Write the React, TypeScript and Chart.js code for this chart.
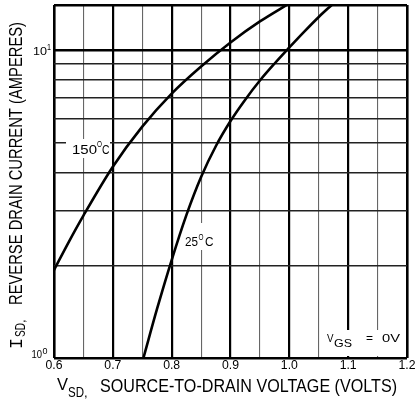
import { useEffect, useRef } from 'react';
import { Chart, registerables } from 'chart.js';

Chart.register(...registerables);

// ---- data ----
const xGridValues = [0.6, 0.65, 0.7, 0.75, 0.8, 0.85, 0.9, 0.95, 1.0, 1.05, 1.1, 1.15, 1.2];
const xLabelValues = [0.6, 0.7, 0.8, 0.9, 1.0, 1.1, 1.2];
const xLabels = ['0.6', '0.7', '0.8', '0.9', '1.0', '1.1', '1.2'];
const yGridValues = [1, 2, 3, 4, 5, 6, 7, 8, 9, 10, 14];
const yLabelValues = [1, 10];
const yLabelExps = ['0', '1'];

const v150 = [0.6, 0.625, 0.65, 0.7, 0.75, 0.8, 0.85, 0.9, 0.95, 1.0];
const i150 = [1.93, 2.38, 2.9, 4.18, 5.64, 7.22, 8.84, 10.58, 12.38, 14.17];
const v25 = [0.752, 0.775, 0.8, 0.825, 0.85, 0.875, 0.9, 0.925, 0.95, 0.975, 1.0, 1.025, 1.05, 1.073];
const i25 = [1.0, 1.44, 2.08, 2.91, 3.87, 4.87, 5.88, 6.9, 7.96, 9.04, 10.19, 11.45, 12.8, 14.06];

const xTitleSym = 'V';
const xTitleSub = 'SD';
const xTitleText = 'SOURCE-TO-DRAIN VOLTAGE (VOLTS)';
const yTitleSym = 'I';
const yTitleSub = 'SD';
const yTitleText = 'REVERSE DRAIN CURRENT (AMPERES)';
const label150 = '150';
const label25 = '25';
const vgsSym = 'V';
const vgsSub = 'GS';
const vgsEq = '=';
const vgsVal = '0V';

const FONT = '"Liberation Sans", "DejaVu Sans", sans-serif';

function txt(
  ctx: CanvasRenderingContext2D,
  s: string,
  x: number,
  y: number,
  size: number,
  w?: number,
  align: 'left' | 'center' | 'right' = 'left',
  family: string = FONT
) {
  ctx.save();
  ctx.font = `${size}px ${family}`;
  ctx.textBaseline = 'alphabetic';
  ctx.textAlign = 'left';
  const m = ctx.measureText(s).width;
  const sx = w ? w / m : 1;
  const rw = m * sx;
  const left = align === 'left' ? x : align === 'center' ? x - rw / 2 : x - rw;
  ctx.translate(left, y);
  ctx.scale(sx, 1);
  ctx.fillStyle = '#000';
  ctx.fillText(s, 0, 0);
  ctx.restore();
}

const annot = {
  id: 'annot',
  beforeDatasetsDraw(chart: any) {
    const ctx = chart.ctx as CanvasRenderingContext2D;
    ctx.save();
    ctx.fillStyle = '#fff';
    // label backgrounds (gaps in the grid)
    ctx.fillRect(66, 139, 44, 19);
    ctx.fillRect(182, 223, 34, 27);
    ctx.fillRect(322, 330, 82, 26);
    ctx.restore();
  },
  afterDraw(chart: any) {
    const ctx = chart.ctx as CanvasRenderingContext2D;
    const xs = chart.scales.x;
    const ys = chart.scales.y;
    // x tick labels
    xLabelValues.forEach((v, i) => {
      txt(ctx, xLabels[i], xs.getPixelForValue(v), 369, 12, 17, 'center');
    });
    // y tick labels 10^n
    yLabelValues.forEach((v, i) => {
      const py = ys.getPixelForValue(v);
      if (i === 0) {
        txt(ctx, '10', 42, py, 10.5, 10.5, 'right');
        txt(ctx, yLabelExps[i], 42.5, py - 4, 8.5, 5);
      } else {
        txt(ctx, '10', 47, py + 4.5, 11.5, 14, 'right');
        txt(ctx, yLabelExps[i], 47, py - 0.5, 9, 4);
      }
    });
    // x title
    txt(ctx, xTitleSym, 57, 390, 17, 11);
    txt(ctx, xTitleSub, 68, 397, 14, 16);
    txt(ctx, ',', 84, 397, 13);
    txt(ctx, xTitleText, 100, 392, 18, 297);
    // y title (rotated)
    ctx.save();
    ctx.translate(22, 349);
    ctx.rotate(-Math.PI / 2);
    txt(ctx, yTitleSym, 0, 0, 18, 11, 'left', '"Liberation Mono", monospace');
    txt(ctx, yTitleSub, 12, 3, 14, 14);
    txt(ctx, ',', 26, 3, 13);
    txt(ctx, yTitleText, 44, 0, 18, 283);
    ctx.restore();
    // 150C
    txt(ctx, label150, 72, 154, 13, 25);
    txt(ctx, 'O', 97, 146.5, 8.5, 5);
    txt(ctx, 'C', 102, 154, 13, 7.5);
    // 25C
    txt(ctx, label25, 185, 246, 13, 13);
    txt(ctx, 'O', 198.5, 239.5, 8.5, 5);
    txt(ctx, 'C', 205, 246, 13, 8.5);
    // VGS = 0V
    txt(ctx, vgsSym, 327, 342, 11.5, 6.5);
    txt(ctx, vgsSub, 334, 347, 11.5, 18);
    txt(ctx, vgsEq, 366, 342, 11.5, 7);
    txt(ctx, vgsVal, 382, 342, 11.5, 18);
  },
};

export default function App() {
  const ref = useRef<HTMLCanvasElement>(null);
  useEffect(() => {
    const canvas = ref.current!;
    const isMajorX = (v: number) => Math.abs(v * 10 - Math.round(v * 10)) < 1e-6;
    const chart = new Chart(canvas, {
      type: 'line',
      data: {
        datasets: [
          {
            label: '150C',
            data: v150.map((v, i) => ({ x: v, y: i150[i] })),
            borderColor: '#000',
            borderWidth: 2.6,
            pointRadius: 0,
            cubicInterpolationMode: 'monotone',
            fill: false,
          },
          {
            label: '25C',
            data: v25.map((v, i) => ({ x: v, y: i25[i] })),
            borderColor: '#000',
            borderWidth: 2.6,
            pointRadius: 0,
            cubicInterpolationMode: 'monotone',
            fill: false,
          },
        ],
      },
      options: {
        responsive: false,
        animation: false,
        events: [],
        layout: { padding: { left: 54, right: 11, top: 5, bottom: 44 } },
        plugins: { legend: { display: false }, tooltip: { enabled: false }, title: { display: false } },
        scales: {
          x: {
            type: 'linear',
            min: 0.6,
            max: 1.2,
            ticks: { display: false },
            border: { display: false },
            grid: {
              drawTicks: false,
              color: (c: any) => {
                const v = c.tick ? c.tick.value : 0;
                return isMajorX(v) ? '#000' : '#666';
              },
              lineWidth: (c: any) => {
                const v = c.tick ? c.tick.value : 0;
                if (Math.abs(v - 0.6) < 1e-6 || Math.abs(v - 1.2) < 1e-6) return 2.6;
                return isMajorX(v) ? 2.2 : 1.1;
              },
            },
            afterBuildTicks: (s: any) => {
              s.ticks = xGridValues.map((v) => ({ value: v }));
            },
            afterFit: (s: any) => {
              s.height = 0;
            },
          },
          y: {
            type: 'logarithmic',
            min: 1,
            max: 14,
            ticks: { display: false },
            border: { display: false },
            grid: {
              drawTicks: false,
              color: (c: any) => {
                const v = c.tick ? c.tick.value : 0;
                return v === 1 || v === 10 || v === 14 ? '#000' : '#222';
              },
              lineWidth: (c: any) => {
                const v = c.tick ? c.tick.value : 0;
                return v === 1 || v === 10 || v === 14 ? 2.6 : 1.5;
              },
            },
            afterBuildTicks: (s: any) => {
              s.ticks = yGridValues.map((v) => ({ value: v }));
            },
            afterFit: (s: any) => {
              s.width = 0;
            },
          },
        },
      },
      plugins: [annot],
    } as any);
    return () => chart.destroy();
  }, []);
  return (
    <canvas
      ref={ref}
      width={418}
      height={402}
      style={{ position: 'fixed', left: 0, top: 0, width: 418, height: 402, background: '#fff' }}
    />
  );
}
